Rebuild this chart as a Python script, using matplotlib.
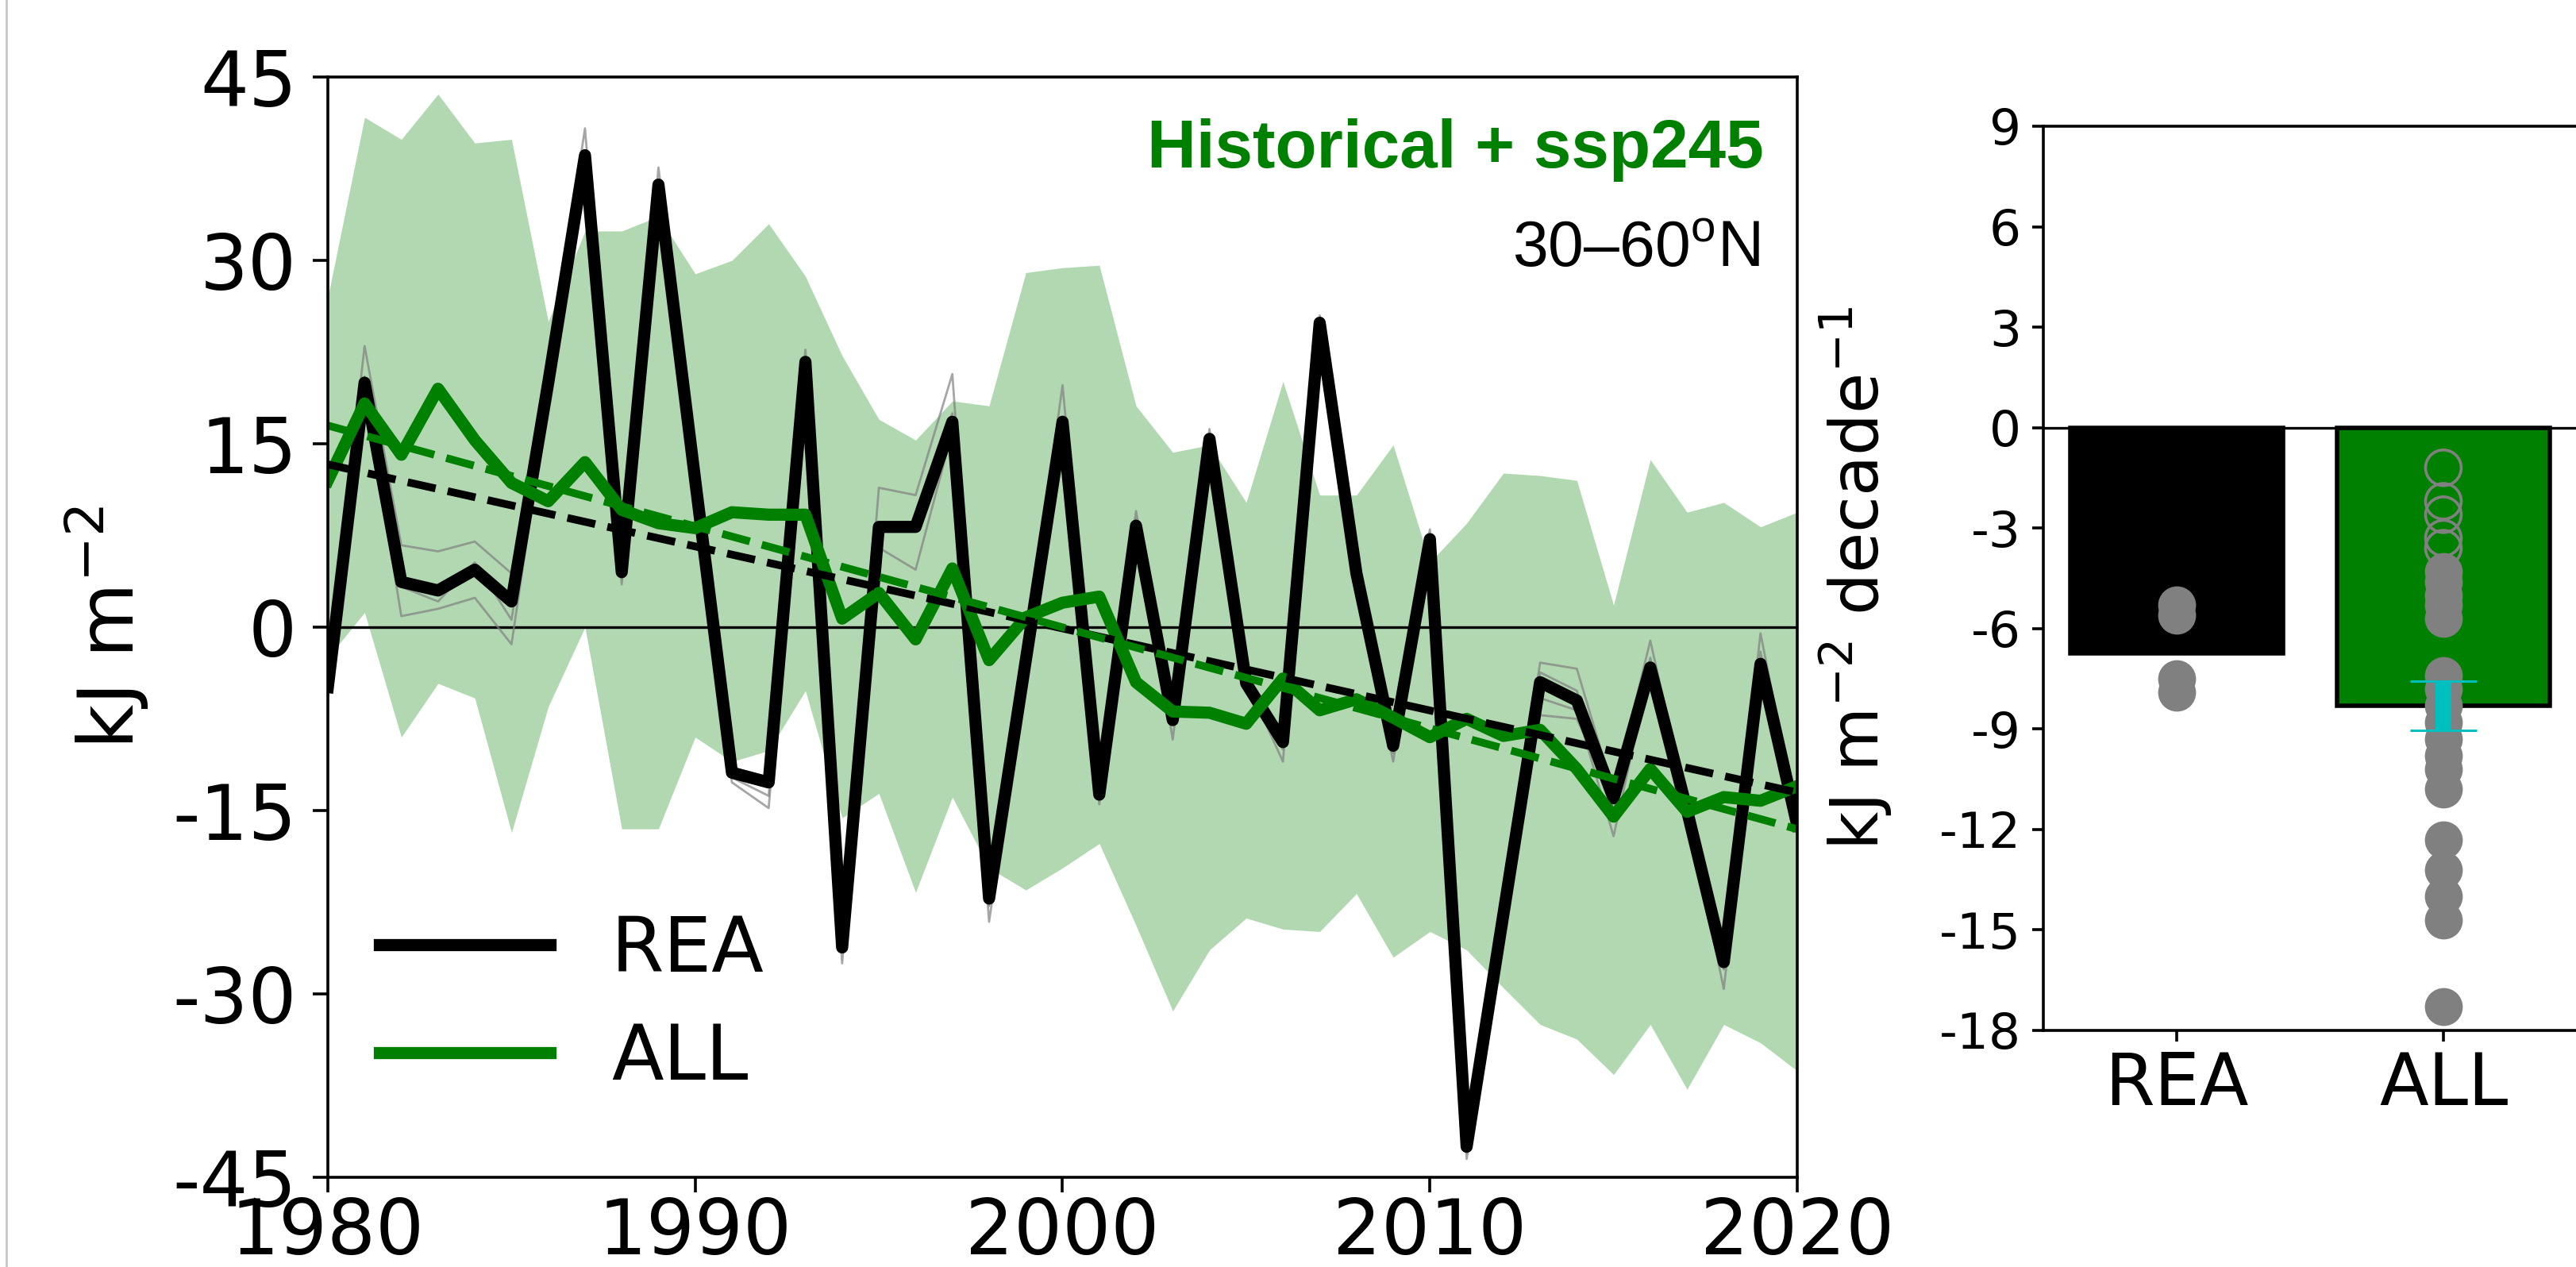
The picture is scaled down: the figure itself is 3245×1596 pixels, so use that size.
import numpy as np
import matplotlib
matplotlib.use('Agg')
import matplotlib.pyplot as plt
from matplotlib.lines import Line2D

# Setting
plt.rcParams['mathtext.rm'] = 'Liberation Sans'

# data
years = np.arange(1980, 2021)

rea = [-4.9, 20.0, 3.7, 3.0, 4.7, 2.1, 20.0, 38.6, 4.5, 36.2,
       12.0, -11.9, -12.7, 21.7, -26.2, 8.2, 8.2, 16.8, -22.2, -2.7,
       16.8, -13.7, 8.3, -7.6, 15.4, -4.6, -9.4, 24.9, 4.4, -9.7,
       7.2, -42.5, -23.5, -4.5, -6.0, -14.0, -3.3, -15.0, -27.4, -3.0,
       -16.2]

all_mean = [12.0, 18.3, 14.1, 19.5, 15.3, 11.8, 10.3, 13.5, 9.6, 8.5,
            8.1, 9.4, 9.2, 9.2, 0.7, 2.8, -1.0, 4.8, -2.7, 0.8,
            2.0, 2.5, -4.5, -6.9, -7.0, -7.9, -4.2, -6.8, -5.9, -7.4,
            -9.0, -7.5, -8.9, -8.4, -11.6, -15.5, -11.6, -15.1, -13.9, -14.2,
            -13.0]

all_upper = [27.0, 41.7, 39.9, 43.6, 39.6, 39.9, 25.0, 32.4, 32.4, 33.6,
             28.9, 30.0, 33.0, 28.7, 22.2, 17.0, 15.3, 18.5, 18.1, 29.0,
             29.4, 29.6, 18.1, 14.3, 14.9, 10.2, 20.1, 10.8, 10.8, 14.9,
             5.3, 8.5, 12.6, 12.4, 12.0, 1.8, 13.7, 9.4, 10.2, 8.2,
             9.4]

all_lower = [-2.5, 1.2, -9.0, -4.6, -5.8, -16.8, -6.5, 0.0, -16.5, -16.5,
             -9.0, -11.0, -10.1, -5.2, -15.6, -13.6, -21.7, -13.9, -19.7, -21.5,
             -19.7, -17.7, -24.4, -31.4, -26.4, -23.8, -24.7, -24.9, -21.8, -27.0,
             -24.9, -26.4, -29.5, -32.5, -33.7, -36.6, -32.5, -37.8, -32.5, -34.0,
             -36.3]

# individual reanalyses (thin grey)
rea_m1 = [-4.0, 23.0, 6.7, 6.2, 7.0, 4.4, 21.0, 40.8, 3.5, 37.6,
          12.5, -11.5, -12.3, 22.7, -25.8, 11.4, 10.8, 20.7, -21.5, -2.0,
          19.8, -13.0, 9.5, -7.0, 16.2, -4.0, -9.0, 25.5, 4.8, -9.5,
          8.0, -42.0, -23.0, -2.9, -3.4, -13.5, -1.1, -14.5, -27.0, -0.5,
          -15.8]
rea_m2 = [-5.5, 20.5, 3.3, 2.1, 5.3, 0.6, 20.0, 38.0, 5.0, 36.0,
          12.0, -12.3, -13.8, 21.0, -26.5, 6.5, 4.7, 16.0, -22.8, -3.0,
          16.5, -14.0, 8.0, -8.0, 15.0, -5.2, -10.0, 24.5, 4.0, -10.3,
          7.0, -43.0, -24.0, -3.7, -5.2, -15.0, -2.5, -15.5, -28.0, -2.0,
          -16.5]
rea_m3 = [-4.5, 19.5, 0.9, 1.5, 2.4, -1.4, 19.0, 37.5, 4.0, 35.5,
          11.5, -12.7, -14.8, 21.5, -27.5, 8.0, 8.5, 17.5, -24.1, -3.5,
          17.2, -14.5, 8.8, -9.2, 15.8, -4.4, -11.0, 25.2, 3.8, -11.0,
          7.5, -43.5, -24.5, -5.8, -6.8, -17.1, -3.3, -15.0, -29.6, -3.3,
          -16.8]
rea_m4 = [-5.0, 20.0, 3.7, 3.0, 4.7, 2.1, 20.0, 38.6, 4.5, 36.2,
          12.0, -11.9, -12.7, 21.7, -26.2, 8.2, 8.2, 16.8, -22.2, -2.7,
          16.8, -13.7, 8.3, -7.6, 15.4, -4.6, -9.4, 24.9, 4.4, -9.7,
          7.2, -42.5, -23.5, -7.2, -7.5, -14.0, -4.5, -15.0, -27.4, -3.0,
          -16.2]

# trend panel
bar_labels = ['REA', 'ALL']
bar_values = [-6.75, -8.3]
all_trend_err = 0.73
rea_dots = [-5.3, -5.6, -7.5, -7.9]
all_dots_open = [-1.2, -2.2, -2.6, -3.3, -3.6]
all_dots = [-4.3, -4.6, -5.0, -5.3, -5.7, -7.4, -7.8, -8.3, -8.8, -9.3,
            -9.8, -10.2, -10.8, -12.3, -13.2, -14.0, -14.7, -17.3]

yt1 = [-45, -30, -15, 0, 15, 30, 45]
xt1 = [1980, 1990, 2000, 2010, 2020]
yt2 = [-18, -15, -12, -9, -6, -3, 0, 3, 6, 9]

# figure
fig = plt.figure(figsize=(16.225, 7.98), dpi=200)
ax1 = fig.add_axes([0.12727, 0.07080, 0.57042, 0.86842])
ax2 = fig.add_axes([0.79322, 0.18672, 0.20986, 0.71366])

# thin border line at the left edge of the screenshot
fig.add_artist(Line2D([0.0025, 0.0025], [0, 1], transform=fig.transFigure,
                      color='#c8c8c8', lw=1.0))

##left panel
ax1.fill_between(years, all_lower, all_upper, color='green', alpha=0.3, lw=0)
ax1.axhline(0, color='black', lw=1.2)
for m in [rea_m1, rea_m2, rea_m3, rea_m4]:
    ax1.plot(years, m, color='gray', lw=1.0, alpha=0.7)
ax1.plot(years, rea, color='black', lw=5.5, label='REA')
ax1.plot(years, all_mean, color='green', lw=5.5, label='ALL')

p_rea = np.polyfit(years, rea, 1)
p_all = np.polyfit(years, all_mean, 1)
ax1.plot(years, np.polyval(p_rea, years), '--', color='black', lw=3.5)
ax1.plot(years, np.polyval(p_all, years), '--', color='green', lw=3.5)

ax1.set_xlim(1980, 2020)
ax1.set_ylim(-45, 45)
ax1.set_yticks(yt1)
ax1.set_yticklabels([str(v) for v in yt1])
ax1.set_xticks(xt1)
ax1.set_xticklabels([str(v) for v in xt1])
ax1.tick_params(axis='both', labelsize=34.5, length=7, width=1.3)
ax1.tick_params(axis='y', pad=7)
ax1.tick_params(axis='x', pad=1.5)
for s in ax1.spines.values():
    s.set_linewidth(1.3)
ax1.set_ylabel('kJ m$^{-2}$', fontsize=35)
ax1.yaxis.set_label_coords(-0.1205, 0.5)

ax1.legend(loc='center left', bbox_to_anchor=(0.035, 0.157), frameon=False,
           fontsize=34.5, handlelength=2.25, handletextpad=0.8,
           labelspacing=0.45, borderpad=0, borderaxespad=0)

ax1.text(0.9773, 0.9177, 'Historical + ssp245', transform=ax1.transAxes,
         ha='right', va='baseline', color='green', fontsize=30.8,
         fontweight='bold', family='Liberation Sans')
ax1.text(0.9746, 0.8276, '30\u201360$^{\\rm o}$N', transform=ax1.transAxes,
         ha='right', va='baseline', color='black', fontsize=29,
         family='Liberation Sans', math_fontfamily='custom')

##right panel
xpos = np.arange(len(bar_labels))
ax2.bar(xpos, bar_values, width=0.8, color=['black', 'green'],
        edgecolor='black', lw=2, zorder=1)
ax2.axhline(0, color='black', lw=1.2, zorder=4)
ax2.scatter(np.full(len(rea_dots), xpos[0]), rea_dots, s=262,
            color='gray', zorder=2)
ax2.scatter(np.full(len(all_dots_open), xpos[1]), all_dots_open, s=262,
            facecolor='none', edgecolor='gray', lw=1.3, zorder=2)
ax2.scatter(np.full(len(all_dots), xpos[1]), all_dots, s=262,
            color='gray', zorder=2)
ax2.errorbar(xpos[1], bar_values[1], yerr=all_trend_err, fmt='none',
             ecolor='c', elinewidth=7.2, capsize=15, capthick=1.1, zorder=3)

ax2.set_xlim(-0.5, 1.527)
ax2.set_ylim(-18, 9)
ax2.set_yticks(yt2)
ax2.set_yticklabels([str(v) for v in yt2])
ax2.set_xticks(xpos)
ax2.set_xticklabels(bar_labels)
ax2.tick_params(axis='y', labelsize=22.7, length=5, width=1.3, pad=5)
ax2.tick_params(axis='x', labelsize=32.5, length=5, width=1.3, pad=4)
for s in ax2.spines.values():
    s.set_linewidth(1.3)
ax2.set_ylabel('kJ m$^{-2}$ decade$^{-1}$', fontsize=30)
ax2.yaxis.set_label_coords(-0.276, 0.5)

fig.savefig('out.png', dpi=200)
